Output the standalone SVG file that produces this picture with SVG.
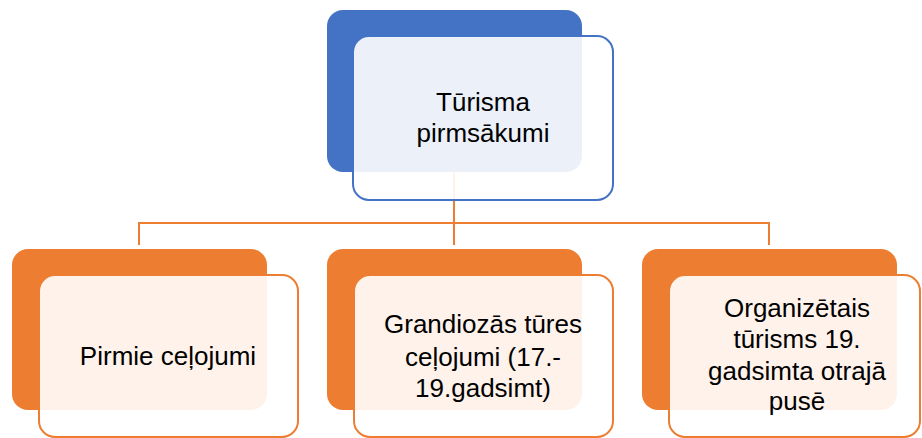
<svg xmlns="http://www.w3.org/2000/svg" width="922" height="438" viewBox="0 0 922 438">
<style>
.bg{fill:#fff}
.backB{fill:#4472C4}
.backO{fill:#ED7D31}
.frontB{fill:#fff;fill-opacity:0.9;stroke:#4472C4;stroke-width:2}
.frontO{fill:#fff;fill-opacity:0.9;stroke:#ED7D31;stroke-width:2}
.conn{fill:none;stroke:#ED7D31;stroke-width:2}
text{font-family:"Liberation Sans",Arial,sans-serif;font-size:26px;fill:#000;text-anchor:middle}
</style>
<rect class="bg" x="0" y="0" width="922" height="438"/>
<g id="connectors">
<path class="conn" d="M454,172 V245"/>
<path class="conn" d="M139,245 V223 H769 V245"/>
</g>
<g id="node-top">
<rect class="backB" x="327" y="10" width="255" height="162" rx="16"/>
<rect class="frontB" x="353" y="36" width="260" height="164" rx="16"/>
<text x="483" y="111">Tūrisma</text>
<text x="483" y="142">pirmsākumi</text>
</g>
<g id="node-1">
<rect class="backO" x="12" y="249" width="255" height="161" rx="16"/>
<rect class="frontO" x="39" y="275" width="259" height="162" rx="16"/>
<text x="168" y="365">Pirmie ceļojumi</text>
</g>
<g id="node-2">
<rect class="backO" x="327" y="249" width="255" height="161" rx="16"/>
<rect class="frontO" x="354" y="275" width="259" height="162" rx="16"/>
<text x="483" y="333">Grandiozās tūres</text>
<text x="483" y="366">ceļojumi (17.-</text>
<text x="483" y="397">19.gadsimt)</text>
</g>
<g id="node-3">
<rect class="backO" x="642" y="249" width="255" height="161" rx="16"/>
<rect class="frontO" x="669" y="275" width="251" height="162" rx="16"/>
<text x="797" y="317">Organizētais</text>
<text x="797" y="348">tūrisms 19.</text>
<text x="797" y="380">gadsimta otrajā</text>
<text x="797" y="410">pusē</text>
</g>
</svg>
